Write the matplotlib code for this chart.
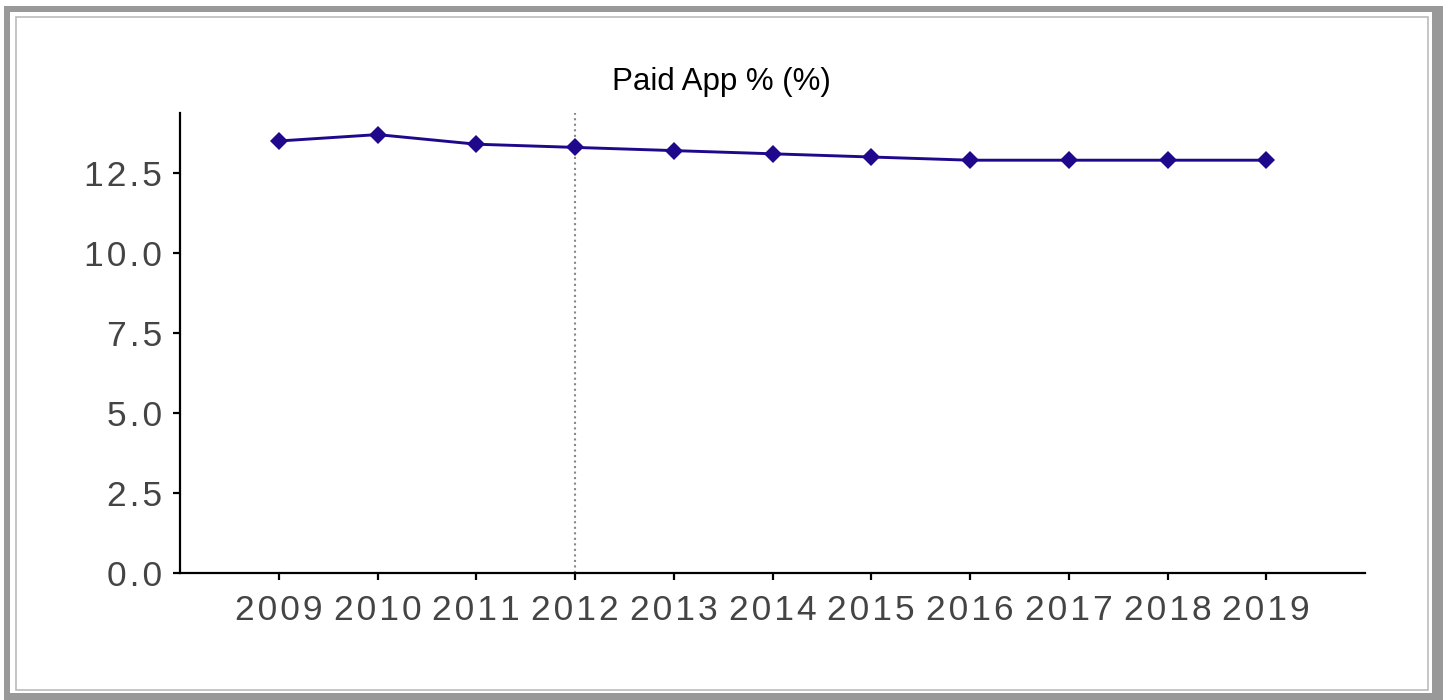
import matplotlib
matplotlib.use("Agg")
import matplotlib.pyplot as plt
from matplotlib.patches import Rectangle

years = [2009, 2010, 2011, 2012, 2013, 2014, 2015, 2016, 2017, 2018, 2019]
paid_pct = [13.5, 13.7, 13.4, 13.3, 13.2, 13.1, 13.0, 12.9, 12.9, 12.9, 12.9]
y_ticks = [0.0, 2.5, 5.0, 7.5, 10.0, 12.5]
marker_year = 2012
title = "Paid App % (%)"

plt.rcParams['font.family'] = ['Liberation Sans', 'DejaVu Sans']

def spaced(s):
    return "\u200a".join(list(s))

fig = plt.figure(figsize=(14.43, 7.0), dpi=100)
W, H = 1443, 700

def px_rect(x0, y0, x1, y1, **kw):
    # pixel coords with y measured from top
    return Rectangle((x0 / W, (H - y1) / H), (x1 - x0) / W, (y1 - y0) / H,
                     transform=fig.transFigure, **kw)

# outer gray frame
fig.patches.append(px_rect(4, 6, 1443, 700, facecolor='#999999', edgecolor='none', zorder=-10))
fig.patches.append(px_rect(10, 12, 1432, 693, facecolor='white', edgecolor='none', zorder=-9))
fig.patches.append(px_rect(15.5, 16.5, 1428, 690, fill=False, edgecolor='#bbbbbb',
                           linewidth=1.2, zorder=-8))

ax = fig.add_axes([180 / W, (700 - 573) / H, (1365 - 180) / W, (573 - 113) / H])
ax.set_zorder(1)
ax.patch.set_alpha(0)
ax.plot(years, paid_pct, color='#20088c', linewidth=2.1, marker='D', markersize=9.5,
        markeredgewidth=0, zorder=3)
ax.axvline(marker_year, color='#888888', linestyle=':', linewidth=1.5, zorder=1)

ax.set_xlim(2008.0, 2020.0)
ax.set_ylim(0, 14.375)
ax.set_xticks(years)
ax.set_xticklabels([spaced(str(y)) for y in years])
ax.set_yticks(y_ticks)
ax.set_yticklabels([spaced(f"{v:.1f}") for v in y_ticks])

for s in ['top', 'right']:
    ax.spines[s].set_visible(False)
for s in ['left', 'bottom']:
    ax.spines[s].set_linewidth(1.6)
    ax.spines[s].set_color('black')

ax.tick_params(axis='both', direction='out', length=5, width=1.6, color='black',
               labelsize=25.5, labelcolor='#444444')
ax.tick_params(axis='x', pad=10)
ax.tick_params(axis='y', pad=8)

fig.text(721 / W, (700 - 82) / H, title, ha='center', va='center', fontsize=22.5,
         color='black', zorder=5)

fig.savefig('out.png', dpi=100, facecolor='white')
